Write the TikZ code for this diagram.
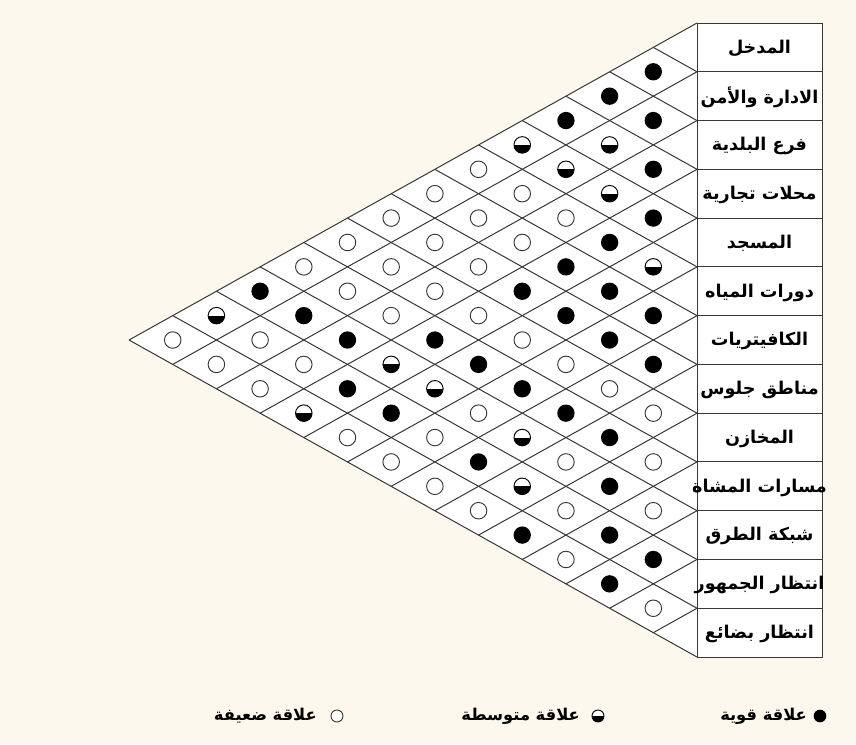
\documentclass[tikz,border=0pt]{standalone}
\usepackage{fontspec}
\newfontfamily\arabicfont[Script=Arabic]{DejaVu Sans}
\TeXXeTstate=1
\definecolor{bgcream}{RGB}{252,248,237}
\definecolor{gridgray}{RGB}{55,55,55}
\begin{document}
\begin{tikzpicture}[x=0.75pt,y=-0.75pt,
  gridline/.style={draw=gridgray,line width=0.75pt},
  relF/.style={circle,fill=black,minimum size=13pt,inner sep=0pt},
  relE/.style={circle,draw=gridgray,fill=white,line width=0.7pt,minimum size=12.4pt,inner sep=0pt},
  relH/.style={relE,draw=black,path picture={\fill[black] (path picture bounding box.west) rectangle (path picture bounding box.south east);}},
  rowbox/.style={draw=gridgray,fill=white,line width=0.75pt,minimum width=93.75pt,minimum height=36.58pt,inner sep=0pt},
  rowtext/.style={inner sep=0pt,font=\arabicfont\bfseries\fontsize{13.2}{16}\selectfont},
  legtext/.style={font=\arabicfont\bfseries\fontsize{12.2}{14}\selectfont,inner sep=0pt,anchor=east},
  legF/.style={relF,minimum size=9.5pt},
  legE/.style={relE,minimum size=9pt},
  legH/.style={relH,minimum size=9pt}]
\def\X{697}\def\Y{23}\def\H{48.77}\def\D{43.69}
\fill[bgcream] (0,0) rectangle (856,744);
\useasboundingbox (0,0) rectangle (856,744);
% white triangle
\fill[white] (\X,\Y) -- ({\X-13*\D},{\Y+6.5*\H}) -- (\X,{\Y+13*\H}) -- cycle;
% grid lines
\foreach \k in {0,...,13}{
  \draw[gridline] (\X,{\Y+\k*\H}) -- ({\X-(13-\k)*\D},{\Y+(\k+13)*\H/2});
  \draw[gridline] (\X,{\Y+\k*\H}) -- ({\X-\k*\D},{\Y+\k*\H/2});
}
% row labels
\foreach \k/\t in {0/المدخل,1/الادارة والأمن,2/فرع البلدية,3/محلات تجارية,4/المسجد,5/دورات المياه,6/الكافيتريات,7/مناطق جلوس,8/المخازن,9/مسارات المشاة,10/شبكة الطرق,11/انتظار الجمهور,12/انتظار بضائع}{
  \node[rowbox] (row-\k) at (759.5,{\Y+(\k+0.5)*\H}) {};
  \node[rowtext] (lbl-\k) at ([yshift=-1pt]row-\k.center) {\beginR \t\endR};
}
% relations: d/s/type
\foreach \d/\s/\t in {
 1/2/F,
 2/3/F,
 1/4/F,3/4/F,
 2/5/H,4/5/H,
 1/6/F,3/6/H,5/6/E,
 2/7/H,4/7/E,6/7/E,
 1/8/F,3/8/E,5/8/E,7/8/E,
 2/9/F,4/9/E,6/9/E,8/9/E,
 1/10/H,3/10/F,5/10/E,7/10/E,9/10/E,
 2/11/F,4/11/F,6/11/E,8/11/E,10/11/F,
 1/12/F,3/12/F,5/12/E,7/12/E,9/12/F,11/12/H,
 2/13/F,4/13/E,6/13/F,8/13/F,10/13/E,12/13/E,
 1/14/F,3/14/E,5/14/F,7/14/H,9/14/E,11/14/E,
 2/15/E,4/15/F,6/15/H,8/15/F,10/15/E,
 1/16/E,3/16/F,5/16/E,7/16/F,9/16/H,
 2/17/F,4/17/H,6/17/E,8/17/E,
 1/18/E,3/18/E,5/18/F,7/18/E,
 2/19/F,4/19/H,6/19/E,
 1/20/E,3/20/E,5/20/E,
 2/21/F,4/21/F,
 1/22/F,3/22/E,
 2/23/F,
 1/24/E}{
  \node[rel\t] (c-\d-\s) at ({\X-\d*\D},{\Y+\s*\H/2}) {};
}
% legend
\node[legF] (lgF) at (820,716) {};
\node[legtext] (lgFt) at (807,716) {\beginR علاقة قوية\endR};
\node[legH] (lgH) at (598,716) {};
\node[legtext] (lgHt) at (580,716) {\beginR علاقة متوسطة\endR};
\node[legE] (lgE) at (337,716) {};
\node[legtext] (lgEt) at (317,716) {\beginR علاقة ضعيفة\endR};
\end{tikzpicture}
\end{document}
